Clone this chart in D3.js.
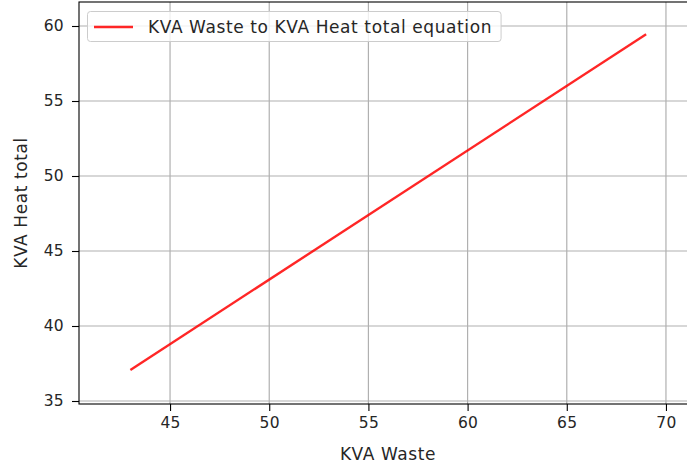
<!DOCTYPE html>
<html>
<head>
<meta charset="utf-8">
<script src="https://cdn.jsdelivr.net/npm/d3@7"></script>
<style>
  html, body { margin: 0; padding: 0; background: #ffffff; }
  svg { display: block; }
  text { font-family: "DejaVu Sans", sans-serif; fill: #262626; }
</style>
</head>
<body>
<svg id="chart" width="687" height="467"></svg>
<script>
// Fitted relation between KVA Waste and KVA Heat total
const kvaWaste = [43, 69];
const kvaHeatTotal = [37.07, 59.45];
const xTicks = [45, 50, 55, 60, 65, 70];
const yTicks = [35, 40, 45, 50, 55, 60];
const seriesName = "KVA Waste to KVA Heat total equation";

const svg = d3.select("#chart");
const plot = { left: 79, top: 2, right: 697.5, bottom: 404 };

const x = d3.scaleLinear().domain([40.41, 71.59]).range([plot.left, plot.right]);
const y = d3.scaleLinear().domain([34.8, 61.6]).range([plot.bottom, plot.top]);

const tickFont = 15.5;
const labelFont = 17;
const labelSpacing = "0.6px";

// grid
const grid = svg.append("g");
grid.selectAll("line.gx").data(xTicks).join("line")
  .attr("x1", d => x(d)).attr("x2", d => x(d))
  .attr("y1", plot.top).attr("y2", plot.bottom)
  .attr("stroke", "#b0b0b0").attr("stroke-width", 1.2);
grid.selectAll("line.gy").data(yTicks).join("line")
  .attr("y1", d => y(d)).attr("y2", d => y(d))
  .attr("x1", plot.left).attr("x2", plot.right)
  .attr("stroke", "#b0b0b0").attr("stroke-width", 1.2);

// series line
const line = d3.line().x(d => x(d[0])).y(d => y(d[1]));
svg.append("path")
  .datum(kvaWaste.map((v, i) => [v, kvaHeatTotal[i]]))
  .attr("d", line)
  .attr("fill", "none")
  .attr("stroke", "#ff0000")
  .attr("stroke-opacity", 0.85)
  .attr("stroke-width", 2.4);

// spines
svg.append("rect")
  .attr("x", plot.left).attr("y", plot.top)
  .attr("width", plot.right - plot.left).attr("height", plot.bottom - plot.top)
  .attr("fill", "none").attr("stroke", "#000").attr("stroke-width", 1.1);

// axes
const xAxis = d3.axisBottom(x).tickValues(xTicks).tickSize(7).tickPadding(6).tickSizeOuter(0);
const yAxis = d3.axisLeft(y).tickValues(yTicks).tickSize(7).tickPadding(8).tickSizeOuter(0);

const gx = svg.append("g").attr("transform", `translate(0,${plot.bottom})`).call(xAxis);
const gy = svg.append("g").attr("transform", `translate(${plot.left},0)`).call(yAxis);
[gx, gy].forEach(g => {
  g.select(".domain").remove();
  g.selectAll(".tick line").attr("stroke", "#000").attr("stroke-width", 1.1);
  g.selectAll(".tick text")
    .attr("font-family", "DejaVu Sans, sans-serif")
    .attr("font-size", tickFont)
    .attr("letter-spacing", "0.3px")
    .attr("fill", "#262626");
});

// axis labels
svg.append("text")
  .attr("x", 388)
  .attr("y", 460)
  .attr("text-anchor", "middle")
  .attr("font-size", labelFont)
  .attr("letter-spacing", labelSpacing)
  .text("KVA Waste");

svg.append("text")
  .attr("transform", `translate(27,${(plot.top + plot.bottom) / 2}) rotate(-90)`)
  .attr("text-anchor", "middle")
  .attr("font-size", labelFont)
  .attr("letter-spacing", labelSpacing)
  .text("KVA Heat total");

// legend
const legend = svg.append("g");
const lbl = legend.append("text")
  .attr("x", 148).attr("y", 27)
  .attr("dy", "0.35em")
  .attr("font-size", labelFont)
  .attr("letter-spacing", labelSpacing)
  .text(seriesName);
const tw = lbl.node().getComputedTextLength();
legend.insert("rect", "text")
  .attr("x", 87.5).attr("y", 11.5)
  .attr("width", 148 + tw + 9 - 87.5).attr("height", 30)
  .attr("rx", 3).attr("ry", 3)
  .attr("fill", "#ffffff").attr("fill-opacity", 0.8)
  .attr("stroke", "#cccccc").attr("stroke-width", 1);
legend.insert("line", "text")
  .attr("x1", 94).attr("x2", 133).attr("y1", 27).attr("y2", 27)
  .attr("stroke", "#ff0000").attr("stroke-opacity", 0.85).attr("stroke-width", 2.4);
</script>
</body>
</html>
